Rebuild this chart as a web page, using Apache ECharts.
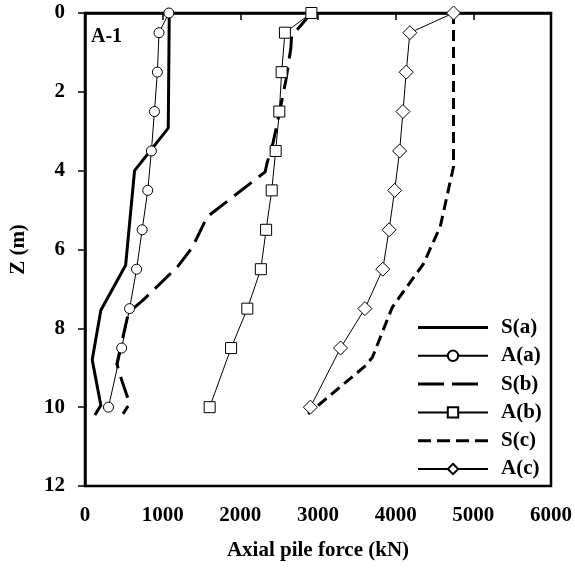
<!DOCTYPE html>
<html>
<head>
<meta charset="utf-8">
<script src="https://cdn.jsdelivr.net/npm/echarts@6/dist/echarts.min.js"></script>
<style>html,body{margin:0;padding:0;background:#fff}#c{width:575px;height:573px}</style>
</head>
<body>
<div id="c"></div>
<script>
// ---- data ----
var xTicks = [0, 1000, 2000, 3000, 4000, 5000, 6000];
var yTicks = [0, 2, 4, 6, 8, 10, 12];

var depthA = [0, 0.5, 1.5, 2.5, 3.5, 4.5, 5.5, 6.5, 7.5, 8.5, 10];
var forceAa = [1080, 953, 932, 894, 855, 808, 736, 664, 574, 472, 302];
var forceAb = [2915, 2574, 2532, 2502, 2455, 2404, 2332, 2264, 2090, 1881, 1605];
var forceAc = [4745, 4183, 4136, 4094, 4051, 3987, 3915, 3834, 3604, 3290, 2902];

var depthSa = [0, 2.92, 4.0, 6.4, 7.54, 8.8, 9.95, 10.2];
var forceSa = [1085, 1072, 638, 523, 204, 93, 204, 128];

var depthSb = [0, 0.59, 0.9, 1.7, 2.85, 3.3, 3.8, 4.03, 5.17, 5.95, 6.44, 7.29, 7.6, 8.3, 8.9, 9.3, 9.91, 10.17];
var forceSb = [2915, 2660, 2650, 2587, 2470, 2420, 2345, 2320, 1574, 1380, 1190, 744, 560, 480, 410, 470, 575, 489];

var depthSc = [0, 3.9, 4.28, 5.42, 5.97, 6.35, 7.46, 7.88, 8.73, 8.94, 10.17];
var forceSc = [4745, 4745, 4702, 4574, 4447, 4362, 3958, 3872, 3702, 3617, 2872];

var seriesNames = ['S(a)', 'A(a)', 'S(b)', 'A(b)', 'S(c)', 'A(c)'];

function pairs(f, d) { return f.map(function (v, i) { return [v, d[i]]; }); }

var FONT = "'Liberation Serif','Times New Roman',serif";
var chart = echarts.init(document.getElementById('c'), null, {renderer: 'canvas'});

// legend icons for the plain (symbol-less) lines: solid / long dash / short dash
var legendIcons = {
  'S(a)': 'path://M0,0H70V3H0Z',
  'S(b)': 'path://M0,0H26V3H0Z M34,0H60V3H34Z M70,1.5L70,1.5',
  'S(c)': 'path://M0,0H13V3H0Z M19,0H32V3H19Z M38,0H51V3H38Z M57,0H70V3H57Z'
};

function sLine(name, f, d, dash) {
  return {
    name: name, type: 'line', data: pairs(f, d), symbol: 'none', z: 2,
    lineStyle: {color: '#000', width: 3, type: dash},
    itemStyle: {color: '#000'}
  };
}
function aLine(name, f, d, sym, size) {
  return {
    name: name, type: 'line', data: pairs(f, d), symbol: sym, symbolSize: size, z: 3,
    showAllSymbol: true,
    lineStyle: {color: '#000', width: 1},
    itemStyle: {color: '#fff', borderColor: '#000', borderWidth: 1}
  };
}

chart.setOption({
  animation: false,
  backgroundColor: '#fff',
  grid: {left: 85, right: 20, top: 13, bottom: 87, show: true, borderColor: '#000', borderWidth: 2.5},
  xAxis: {
    type: 'value', min: xTicks[0], max: xTicks[xTicks.length - 1], interval: 1000,
    position: 'bottom',
    name: 'Axial pile force (kN)', nameLocation: 'middle', nameGap: 54,
    nameTextStyle: {fontFamily: FONT, fontWeight: 'bold', fontSize: 21, color: '#000'},
    axisLine: {show: true, lineStyle: {color: '#000', width: 2.5}},
    axisTick: {show: true, inside: false, length: 7, lineStyle: {color: '#000', width: 1.5}},
    axisLabel: {margin: 19, fontFamily: FONT, fontWeight: 'bold', fontSize: 21, color: '#000',
      formatter: function (v) { return String(v); }},
    splitLine: {show: false}
  },
  yAxis: {
    type: 'value', min: yTicks[0], max: yTicks[yTicks.length - 1], interval: 2, inverse: true,
    name: 'Z (m)', nameLocation: 'middle', nameGap: 56, nameRotate: 90,
    nameTextStyle: {fontFamily: FONT, fontWeight: 'bold', fontSize: 21, color: '#000'},
    axisLine: {show: true, lineStyle: {color: '#000', width: 2.5}},
    axisTick: {show: true, inside: false, length: 7, lineStyle: {color: '#000', width: 1.5}},
    axisLabel: {margin: 20, fontFamily: FONT, fontWeight: 'bold', fontSize: 21, color: '#000',
      formatter: function (v) { return String(v); }},
    splitLine: {show: false}
  },
  legend: {
    data: seriesNames.map(function (n) {
      return legendIcons[n] ? {name: n, icon: legendIcons[n], itemStyle: {color: '#000', borderWidth: 0}} : {name: n};
    }),
    orient: 'vertical', left: 412, top: 312,
    itemWidth: 70, itemHeight: 13, itemGap: 7.3,
    textStyle: {fontFamily: FONT, fontWeight: 'bold', fontSize: 21, color: '#000', padding: [0, 0, 0, 8]}
  },
  graphic: [{
    type: 'text', left: 91, top: 27,
    style: {text: 'A-1', font: "bold 20px 'Liberation Serif','Times New Roman',serif", fill: '#000'}
  }],
  series: [
    sLine('S(a)', forceSa, depthSa, 'solid'),
    aLine('A(a)', forceAa, depthA, 'circle', 10),
    sLine('S(b)', forceSb, depthSb, [22, 9]),
    aLine('A(b)', forceAb, depthA, 'rect', 11),
    sLine('S(c)', forceSc, depthSc, [11, 6]),
    aLine('A(c)', forceAc, depthA, 'diamond', 14)
  ]
});
</script>
</body>
</html>
